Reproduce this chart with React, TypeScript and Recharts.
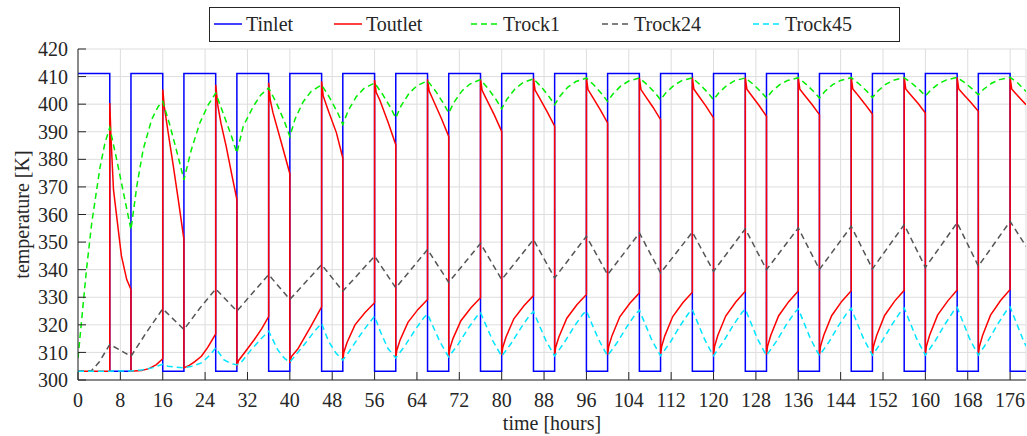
import { CartesianGrid, Line, LineChart, XAxis, YAxis } from "recharts";

// [hours, K] pairs
const TINLET: [number, number][] = [
  [0, 411.15], [6, 411.15], [6, 303.15], [10, 303.15],
  [10, 411.15], [16, 411.15], [16, 303.15], [20, 303.15],
  [20, 411.15], [26, 411.15], [26, 303.15], [30, 303.15],
  [30, 411.15], [36, 411.15], [36, 303.15], [40, 303.15],
  [40, 411.15], [46, 411.15], [46, 303.15], [50, 303.15],
  [50, 411.15], [56, 411.15], [56, 303.15], [60, 303.15],
  [60, 411.15], [66, 411.15], [66, 303.15], [70, 303.15],
  [70, 411.15], [76, 411.15], [76, 303.15], [80, 303.15],
  [80, 411.15], [86, 411.15], [86, 303.15], [90, 303.15],
  [90, 411.15], [96, 411.15], [96, 303.15], [100, 303.15],
  [100, 411.15], [106, 411.15], [106, 303.15], [110, 303.15],
  [110, 411.15], [116, 411.15], [116, 303.15], [120, 303.15],
  [120, 411.15], [126, 411.15], [126, 303.15], [130, 303.15],
  [130, 411.15], [136, 411.15], [136, 303.15], [140, 303.15],
  [140, 411.15], [146, 411.15], [146, 303.15], [150, 303.15],
  [150, 411.15], [156, 411.15], [156, 303.15], [160, 303.15],
  [160, 411.15], [166, 411.15], [166, 303.15], [170, 303.15],
  [170, 411.15], [176, 411.15], [176, 303.15], [179, 303.15],
];

const TOUTLET: [number, number][] = [
  [0, 303.15], [6, 303.15], [6, 400.4], [6.25, 387], [6.7, 369], [7.6, 354.5], [8.2, 345], [9.2, 336.4], [10, 332.8],
  [10, 303.2], [12, 303.4], [13.5, 304.2], [14.8, 305.6], [16, 307.7], [16, 405.3], [16.3, 399], [17, 390], [18, 377.5], [19, 364.5], [20, 351],
  [20, 304.4], [21, 305.3], [22, 306.6], [23.3, 308.6], [24.5, 311.8], [26, 316.7], [26, 407], [26.4, 399.5], [27, 393], [28, 384.5], [29, 374.8], [30, 365.4],
  [30, 305], [30.3, 307], [31.4, 309.8], [33.3, 314.7], [34.7, 318.6], [36, 323], [36, 407.8], [36.3, 401.5], [36.8, 397], [38.4, 386], [40, 374.8],
  [40, 306.2], [40.3, 308.5], [41.5, 311.2], [42.8, 315.5], [44, 319.5], [46, 326.5], [46, 408.3], [46.3, 403], [47.2, 398], [48.8, 389.6], [50, 380.5],
  [50, 307.4], [50.2, 310.1], [50.8, 313.6], [52.3, 320], [54.2, 324.5], [56, 328], [56, 408.8], [56.3, 404.3], [57, 401.4], [58.6, 393.2], [60, 385.3],
  [60, 308], [60.2, 310.8], [60.8, 314.4], [62.3, 320.9], [64.2, 325.6], [66, 329.2], [66, 409], [66.3, 404.8], [67, 401.8], [68.6, 394.9], [70, 388.3],
  [70, 308.6], [70.2, 311.4], [70.8, 315], [72.3, 321.5], [74.2, 326.2], [76, 329.8], [76, 409.2], [76.3, 405], [77, 402.3], [78.6, 396.1], [80, 390.1],
  [80, 309], [80.2, 311.8], [80.8, 315.5], [82.3, 322.2], [84.2, 326.9], [86, 330.6], [86, 409.3], [86.3, 405.1], [87, 402.7], [88.6, 397.2], [90, 392],
  [90, 309], [90.2, 311.9], [90.8, 315.6], [92.3, 322.4], [94.2, 327.3], [96, 331], [96, 409.5], [96.3, 405.3], [97, 403.1], [98.6, 398], [100, 393.2],
  [100, 309.2], [100.2, 312.1], [100.8, 315.9], [102.3, 322.9], [104.2, 327.8], [106, 331.6], [106, 409.5], [106.3, 405.3], [107, 403.3], [108.6, 398.8], [110, 394.4],
  [110, 309.2], [110.2, 312.1], [110.8, 316], [112.3, 323], [114.2, 328], [116, 331.8], [116, 409.6], [116.3, 405.4], [117, 403.5], [118.6, 399.2], [120, 395],
  [120, 309.2], [120.2, 312.2], [120.8, 316.1], [122.3, 323.2], [124.2, 328.3], [126, 332.2], [126, 409.6], [126.3, 405.4], [127, 403.6], [128.6, 399.5], [130, 395.6],
  [130, 309.2], [130.2, 312.2], [130.8, 316.1], [132.3, 323.3], [134.2, 328.4], [136, 332.3], [136, 409.6], [136.3, 405.4], [137, 403.7], [138.6, 399.9], [140, 396.2],
  [140, 309.2], [140.2, 312.2], [140.8, 316.1], [142.3, 323.3], [144.2, 328.5], [146, 332.4], [146, 409.7], [146.3, 405.5], [147, 403.9], [148.6, 400], [150, 396.4],
  [150, 309.2], [150.2, 312.2], [150.8, 316.1], [152.3, 323.4], [154.2, 328.6], [156, 332.5], [156, 409.7], [156.3, 405.5], [157, 403.9], [158.6, 400.3], [160, 396.8],
  [160, 309.2], [160.2, 312.2], [160.8, 316.2], [162.3, 323.5], [164.2, 328.6], [166, 332.6], [166, 409.7], [166.3, 405.5], [167, 404], [168.6, 400.6], [170, 397.4],
  [170, 309], [170.2, 312.1], [170.8, 316.1], [172.3, 323.5], [174.2, 328.8], [176, 332.8], [176, 409.7], [176.3, 405.5], [177, 404], [178, 401.9], [179, 399.8],
];

const TROCK1: [number, number][] = [
  [0, 308], [0.7, 322], [1.6, 340], [2.6, 357], [4.15, 377], [5.1, 386], [6, 391.5], [7.3, 380], [8.85, 365.4], [10, 354.5],
  [11.1, 370.2], [12.3, 383.5], [13.9, 394.4], [15.15, 399.2], [16, 401], [17.4, 392], [18.9, 381], [20, 372.6],
  [21.4, 383.5], [23, 393.2], [24.6, 399.8], [26, 404], [27.4, 396.8], [29, 388.3], [30, 382.3],
  [31.2, 392], [33.1, 399.2], [34.5, 403.3], [36, 405.9], [37.5, 400.3], [39, 393.6], [40, 388.3],
  [41, 394.7], [42.5, 400.8], [44, 404.6], [46, 407], [47.5, 402.4], [49, 397], [50, 392.6],
  [51, 397.6], [52.5, 402.6], [54, 405.7], [56, 407.7], [57.5, 403.6], [59, 398.8], [60, 395],
  [61, 399.4], [62.5, 403.9], [64, 406.7], [66, 408.5], [67.5, 404.8], [69, 400.3], [70, 396.8],
  [71, 400.7], [72.5, 404.8], [74, 407.3], [76, 408.9], [77.5, 405.5], [79, 401.5], [80, 398.3],
  [81, 401.8], [82.5, 405.5], [84, 407.8], [86, 409.2], [87.5, 406.2], [89, 402.6], [90, 399.8],
  [91, 402.9], [92.5, 406.2], [94, 408.2], [96, 409.5], [97.5, 406.8], [99, 403.5], [100, 401],
  [101, 403.7], [102.5, 406.6], [104, 408.4], [106, 409.5], [107.5, 407], [109, 404], [110, 401.6],
  [111, 404.1], [112.5, 406.8], [114, 408.5], [116, 409.5], [117.5, 407], [119, 404], [120, 401.6],
  [121, 404.1], [122.5, 406.8], [124, 408.5], [126, 409.5], [127.5, 407.2], [129, 404.4], [130, 402.2],
  [131, 404.6], [132.5, 407.1], [134, 408.6], [136, 409.6], [137.5, 407.2], [139, 404.4], [140, 402.2],
  [141, 404.6], [142.5, 407.1], [144, 408.6], [146, 409.6], [147.5, 407.3], [149, 404.6], [150, 402.4],
  [151, 404.7], [152.5, 407.2], [154, 408.7], [156, 409.6], [157.5, 407.5], [159, 405], [160, 403],
  [161, 405.1], [162.5, 407.4], [164, 408.8], [166, 409.7], [167.5, 407.7], [169, 405.3], [170, 403.4],
  [171, 405.4], [172.5, 407.6], [174, 408.9], [176, 409.7], [177.5, 407.6], [179, 404.6],
];

const TROCK24: [number, number][] = [
  [0, 303.15], [2.5, 303.3], [4, 306.5], [6, 312.9], [10, 308.6], [13, 317.5], [16, 325.8],
  [20, 318.3], [23, 326], [26, 333], [30, 325], [36, 338.2], [40, 329.2], [46, 341.8],
  [50, 332.2], [56, 344.9], [60, 333.4], [66, 347.3], [70, 335.4], [76, 349.5], [80, 336.4],
  [86, 350.9], [90, 337], [96, 352.1], [100, 338.2], [106, 353.3], [110, 338.8], [116, 353.6],
  [120, 339.4], [126, 354.8], [130, 340], [136, 355.1], [140, 340.1], [146, 355.7], [150, 340.3],
  [156, 356.3], [160, 340.8], [166, 357], [170, 341.3], [176, 357.5], [179, 348.5],
];

const TROCK45: [number, number][] = [
  [0, 303.15], [6, 303.2], [10, 303.3],
  [12, 303.6], [14, 304.4], [16, 305.7], [17, 305], [18.5, 304.6], [20, 304.4],
  [21.5, 305], [23.3, 306.2], [24.8, 308.8], [26, 311.6], [27.5, 307.4], [28.8, 306], [30, 305.5],
  [31, 306.8], [32.7, 311], [34.5, 314.8], [36, 317.7], [37.7, 311], [39, 307.8], [40, 306.5],
  [41, 308.8], [43, 313.5], [44.7, 317.8], [46, 320.5], [47.3, 314], [48.7, 309.8], [50, 307.2],
  [51, 309.8], [53, 315.5], [54.7, 320], [56, 323.1], [57.1, 317.5], [58.5, 311.5], [60, 308],
  [61.8, 312.6], [63.7, 318.3], [65.3, 322.6], [66, 323.9], [67, 319.6], [68.3, 314], [69.6, 309.6], [70, 308.4],
  [71.8, 313], [73.7, 318.8], [75.3, 323.1], [76, 324.4], [77, 320], [78.3, 314.3], [79.6, 309.9], [80, 308.6],
  [81.8, 313.3], [83.7, 319.1], [85.3, 323.5], [86, 324.8], [87, 320.3], [88.3, 314.5], [89.6, 310], [90, 308.7],
  [91.8, 313.5], [93.7, 319.4], [95.3, 323.8], [96, 325.1], [97, 320.5], [98.3, 314.7], [99.6, 310.1], [100, 308.8],
  [101.8, 313.6], [103.7, 319.5], [105.3, 324], [106, 325.3], [107, 320.7], [108.3, 314.7], [109.6, 310.1], [110, 308.8],
  [111.8, 313.6], [113.7, 319.7], [115.3, 324.2], [116, 325.5], [117, 320.8], [118.3, 314.8], [119.6, 310.1], [120, 308.8],
  [121.8, 313.7], [123.7, 319.8], [125.3, 324.3], [126, 325.7], [127, 321], [128.3, 314.9], [129.6, 310.2], [130, 308.9],
  [131.8, 313.8], [133.7, 319.9], [135.3, 324.4], [136, 325.8], [137, 321.1], [138.3, 315], [139.6, 310.2], [140, 308.9],
  [141.8, 313.8], [143.7, 320], [145.3, 324.6], [146, 326], [147, 321.2], [148.3, 315.1], [149.6, 310.4], [150, 309],
  [151.8, 314], [153.7, 320.1], [155.3, 324.7], [156, 326.1], [157, 321.3], [158.3, 315.2], [159.6, 310.4], [160, 309],
  [161.8, 314], [163.7, 320.2], [165.3, 324.9], [166, 326.3], [167, 321.5], [168.3, 315.2], [169.6, 310.4], [170, 309],
  [171.8, 314.1], [173.7, 320.4], [175.3, 325.1], [176, 326.5], [177, 321.6], [178.3, 315.3], [179, 312.3],
];

const X_TICKS = [0, 8, 16, 24, 32, 40, 48, 56, 64, 72, 80, 88, 96, 104, 112, 120, 128, 136, 144, 152, 160, 168, 176];
const Y_TICKS = [300, 310, 320, 330, 340, 350, 360, 370, 380, 390, 400, 410, 420];

const FONT = "'Liberation Serif', 'DejaVu Serif', serif";
const TEXT = "#262626";
const AXIS = "#262626";

const SERIES = [
  { name: "Tinlet", data: TINLET, color: "#0000ff", dash: undefined },
  { name: "Toutlet", data: TOUTLET, color: "#ff0000", dash: undefined },
  { name: "Trock1", data: TROCK1, color: "#00ee00", dash: "6 4" },
  { name: "Trock24", data: TROCK24, color: "#555555", dash: "6 4" },
  { name: "Trock45", data: TROCK45, color: "#00e5ff", dash: "6 4" },
];

// left offset of each legend entry inside the box
const LEGEND_LEFT = [4, 124, 261, 392, 543];

const tickStyle = { fontSize: 20, fill: TEXT, fontFamily: FONT };

function LegendBox() {
  return (
    <div
      style={{
        position: "absolute",
        left: 209,
        top: 7,
        width: 691,
        height: 35,
        boxSizing: "border-box",
        border: `1.5px solid ${AXIS}`,
        background: "#fff",
        fontFamily: FONT,
        fontSize: 20,
        color: TEXT,
      }}
    >
      {SERIES.map((s, i) => (
        <div
          key={s.name}
          style={{ position: "absolute", left: LEGEND_LEFT[i], top: 0, height: 32, display: "flex", alignItems: "center" }}
        >
          <svg width={28} height={4} style={{ marginRight: 4 }}>
            <line x1={0} y1={2} x2={28} y2={2} stroke={s.color} strokeWidth={1.5} strokeDasharray={s.dash} />
          </svg>
          <span>{s.name}</span>
        </div>
      ))}
    </div>
  );
}

export default function App() {
  return (
    <div style={{ position: "relative", width: 1027, height: 436, background: "#fff" }}>
      <style>{"body{margin:0}"}</style>
      <LineChart width={1027} height={436} margin={{ top: 49, right: 1, bottom: 0, left: 8 }}>
        <CartesianGrid stroke="#dddddd" strokeWidth={1} />
        <XAxis
          type="number"
          dataKey="x"
          domain={[0, 179]}
          ticks={X_TICKS}
          interval={0}
          allowDataOverflow
          height={56}
          tickSize={-8}
          tickMargin={21}
          tick={tickStyle}
          axisLine={{ stroke: AXIS }}
          tickLine={{ stroke: AXIS }}
          label={{ value: "time [hours]", position: "insideBottom", offset: 6, style: { fontSize: 20, fill: TEXT, fontFamily: FONT } }}
        />
        <XAxis
          xAxisId="top"
          orientation="top"
          type="number"
          dataKey="x"
          domain={[0, 179]}
          ticks={X_TICKS}
          interval={0}
          allowDataOverflow
          height={0}
          tickSize={-8}
          tick={false}
          axisLine={{ stroke: AXIS }}
          tickLine={{ stroke: AXIS }}
        />
        <YAxis
          type="number"
          domain={[300, 420]}
          ticks={Y_TICKS}
          interval={0}
          allowDataOverflow
          width={70}
          tickSize={-8}
          tickMargin={18}
          tick={tickStyle}
          axisLine={{ stroke: AXIS }}
          tickLine={{ stroke: AXIS }}
          label={{
            value: "temperature [K]",
            angle: -90,
            position: "insideLeft",
            offset: 14,
            style: { textAnchor: "middle", fontSize: 20, fill: TEXT, fontFamily: FONT },
          }}
        />
        <YAxis
          yAxisId="right"
          orientation="right"
          type="number"
          domain={[300, 420]}
          ticks={Y_TICKS}
          interval={0}
          allowDataOverflow
          width={0}
          tickSize={-8}
          tick={false}
          axisLine={{ stroke: AXIS }}
          tickLine={{ stroke: AXIS }}
        />
        {SERIES.map((s) => (
          <Line
            key={s.name}
            name={s.name}
            data={s.data.map(([x, y]) => ({ x, y }))}
            dataKey="y"
            type="linear"
            stroke={s.color}
            strokeWidth={1.5}
            strokeDasharray={s.dash}
            dot={false}
            activeDot={false}
            isAnimationActive={false}
          />
        ))}
      </LineChart>
      <LegendBox />
    </div>
  );
}
